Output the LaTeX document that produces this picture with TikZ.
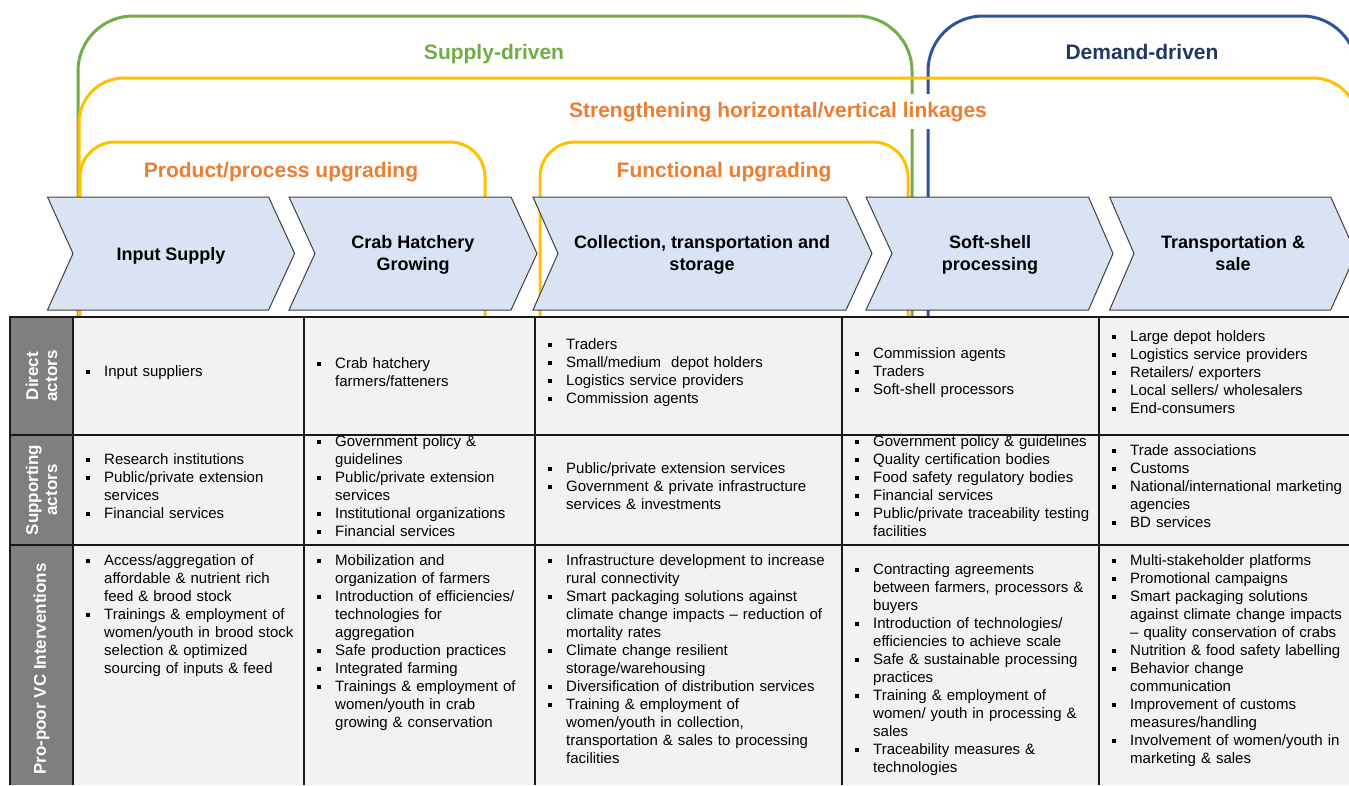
\documentclass[tikz,border=0pt]{standalone}
\usepackage{fontspec}
\setmainfont{Liberation Sans}
\definecolor{sgreen}{HTML}{70AD47}
\definecolor{syellow}{HTML}{FFC000}
\definecolor{sblue}{HTML}{2F5597}
\definecolor{navy}{HTML}{1F3864}
\definecolor{orng}{HTML}{ED7D31}
\definecolor{chevfill}{HTML}{DAE3F3}
\definecolor{chevline}{HTML}{404040}
\definecolor{cellfill}{HTML}{F2F2F2}
\definecolor{labfill}{HTML}{7F7F7F}
\newcommand\sqb{\rule[2.5pt]{4pt}{4pt}}
\newcommand\bitem[1]{\par\hangindent=18pt\hangafter=1\noindent\makebox[18pt][l]{\sqb}#1\par}
\tikzset{
  bracket/.style={line width=3pt, rounded corners=#1},
  title/.style={font=\bfseries\fontsize{21}{25}\selectfont, inner sep=0pt, anchor=base},
  chev/.style={fill=chevfill, draw=chevline, line width=1pt},
  chevtext/.style={font=\bfseries\fontsize{18}{22}\selectfont, align=center, inner sep=0pt},
  cellt/.style={anchor=west, inner sep=0pt, text width=320pt, font=\fontsize{15}{18}\selectfont},
  labt/.style={rotate=90, align=center, text=white, font=\bfseries\fontsize{17}{19}\selectfont, inner sep=0pt},
  grid/.style={line width=1.5pt, draw=black!90}
}
\begin{document}
\begin{tikzpicture}[x=1pt,y=-1pt]
\useasboundingbox (0,0) rectangle (1349,785);
\clip (0,0) rectangle (1349,785);
% brackets
\draw[bracket=55pt, sgreen] (78,320) -- (78,16) -- (912,16) -- (912,320);
\draw[bracket=55pt, sblue] (928,320) -- (928,16) -- (1357,16) -- (1357,320);
\draw[bracket=45pt, syellow] (79,320) -- (79,78) -- (1358,78) -- (1358,320);
\draw[bracket=35pt, syellow] (80,320) -- (80,142) -- (485,142) -- (485,320);
\draw[bracket=35pt, syellow] (540,320) -- (540,142) -- (908,142) -- (908,320);
% titles
\node[title, text=sgreen] (supply) at (494,59) {Supply-driven};
\node[title, text=navy] (demand) at (1142,59) {Demand-driven};
\node[title, text=orng, fill=white, inner xsep=3pt, inner ysep=8pt] (strength) at (778,117) {Strengthening horizontal/vertical linkages};
\node[title, text=orng] (product) at (281,177) {Product/process upgrading};
\node[title, text=orng] (functional) at (724,177) {Functional upgrading};
% chevrons
\draw[chev] (47.5,197) -- (268.6,197) -- (294.6,253.5) -- (268.6,310) -- (47.5,310) -- (73,253.5) -- cycle;
\draw[chev] (289,197) -- (511,197) -- (537,253.5) -- (511,310) -- (289,310) -- (315,253.5) -- cycle;
\draw[chev] (533,197) -- (846,197) -- (872,253.5) -- (846,310) -- (533,310) -- (558,253.5) -- cycle;
\draw[chev] (866,197) -- (1088.5,197) -- (1113,253.5) -- (1088.5,310) -- (866,310) -- (892,253.5) -- cycle;
\draw[chev] (1109.6,197) -- (1330.7,197) -- (1356,253.5) -- (1330.7,310) -- (1109.6,310) -- (1134,253.5) -- cycle;
\node[chevtext] (ch1) at (171,255.5) {Input Supply};
\node[chevtext] (ch2) at (413,254.5) {Crab Hatchery\\Growing};
\node[chevtext] (ch3) at (702,254.5) {Collection, transportation and\\storage};
\node[chevtext] (ch4) at (990,254.5) {Soft-shell\\processing};
\node[chevtext] (ch5) at (1233,253.5) {Transportation \&\\sale};
% table
\fill[cellfill] (73,317) rectangle (1349,785);
\fill[labfill] (10,317) rectangle (73,785);
\draw[grid] (10,435) -- (1349,435);
\draw[grid] (10,545) -- (1349,545);
\foreach \xx in {10,73,304,535,842,1099} {\draw[grid] (\xx,317) -- (\xx,785);}
\draw[line width=2.2pt, draw=black!90] (9,317) -- (1349,317);
% labels
\node[labt] (lab1) at (41.5,376) {Direct\\actors};
\node[labt] (lab2) at (41.5,490) {Supporting\\actors};
\node[labt] (lab3) at (41.5,669) {Pro-poor VC Interventions};
% row 1
\node[cellt] (r1c2) at (86,369) {\bitem{Input suppliers}};
\node[cellt] (r1c3) at (317,369) {\bitem{Crab hatchery\newline farmers/fatteners}};
\node[cellt] (r1c4) at (548,369) {\bitem{Traders}\bitem{Small/medium\ \ depot holders}\bitem{Logistics service providers}\bitem{Commission agents}};
\node[cellt] (r1c5) at (855,369) {\bitem{Commission agents}\bitem{Traders}\bitem{Soft-shell processors}};
\node[cellt] (r1c6) at (1112,369) {\bitem{Large depot holders}\bitem{Logistics service providers}\bitem{Retailers/ exporters}\bitem{Local sellers/ wholesalers}\bitem{End-consumers}};
% row 2
\node[cellt] (r2c2) at (86,483) {\bitem{Research institutions}\bitem{Public/private extension\newline services}\bitem{Financial services}};
\node[cellt] (r2c3) at (317,483) {\bitem{Government policy \&\newline guidelines}\bitem{Public/private extension\newline services}\bitem{Institutional organizations}\bitem{Financial services}};
\node[cellt] (r2c4) at (548,483) {\bitem{Public/private extension services}\bitem{Government \& private infrastructure\newline services \& investments}};
\node[cellt] (r2c5) at (855,483) {\bitem{Government policy \& guidelines}\bitem{Quality certification bodies}\bitem{Food safety regulatory bodies}\bitem{Financial services}\bitem{Public/private traceability testing\newline facilities}};
\node[cellt] (r2c6) at (1112,483) {\bitem{Trade associations}\bitem{Customs}\bitem{National/international marketing\newline agencies}\bitem{BD services}};
% row 3
\node[cellt, anchor=north west] (r3c2) at (86,547) {\bitem{Access/aggregation of\newline affordable \& nutrient rich\newline feed \& brood stock}\bitem{Trainings \& employment of\newline women/youth in brood stock\newline selection \& optimized\newline sourcing of inputs \& feed}};
\node[cellt, anchor=north west] (r3c3) at (317,547) {\bitem{Mobilization and\newline organization of farmers}\bitem{Introduction of efficiencies/\newline technologies for\newline aggregation}\bitem{Safe production practices}\bitem{Integrated farming}\bitem{Trainings \& employment of\newline women/youth in crab\newline growing \& conservation}};
\node[cellt, anchor=north west] (r3c4) at (548,547) {\bitem{Infrastructure development to increase\newline rural connectivity}\bitem{Smart packaging solutions against\newline climate change impacts – reduction of\newline mortality rates}\bitem{Climate change resilient\newline storage/warehousing}\bitem{Diversification of distribution services}\bitem{Training \& employment of\newline women/youth in collection,\newline transportation \& sales to processing\newline facilities}};
\node[cellt, anchor=north west] (r3c5) at (855,556) {\bitem{Contracting agreements\newline between farmers, processors \&\newline buyers}\bitem{Introduction of technologies/\newline efficiencies to achieve scale}\bitem{Safe \& sustainable processing\newline practices}\bitem{Training \& employment of\newline women/ youth in processing \&\newline sales}\bitem{Traceability measures \&\newline technologies}};
\node[cellt, anchor=north west] (r3c6) at (1112,547) {\bitem{Multi-stakeholder platforms}\bitem{Promotional campaigns}\bitem{Smart packaging solutions\newline against climate change impacts\newline – quality conservation of crabs}\bitem{Nutrition \& food safety labelling}\bitem{Behavior change\newline communication}\bitem{Improvement of customs\newline measures/handling}\bitem{Involvement of women/youth in\newline marketing \& sales}};
\end{tikzpicture}
\end{document}
